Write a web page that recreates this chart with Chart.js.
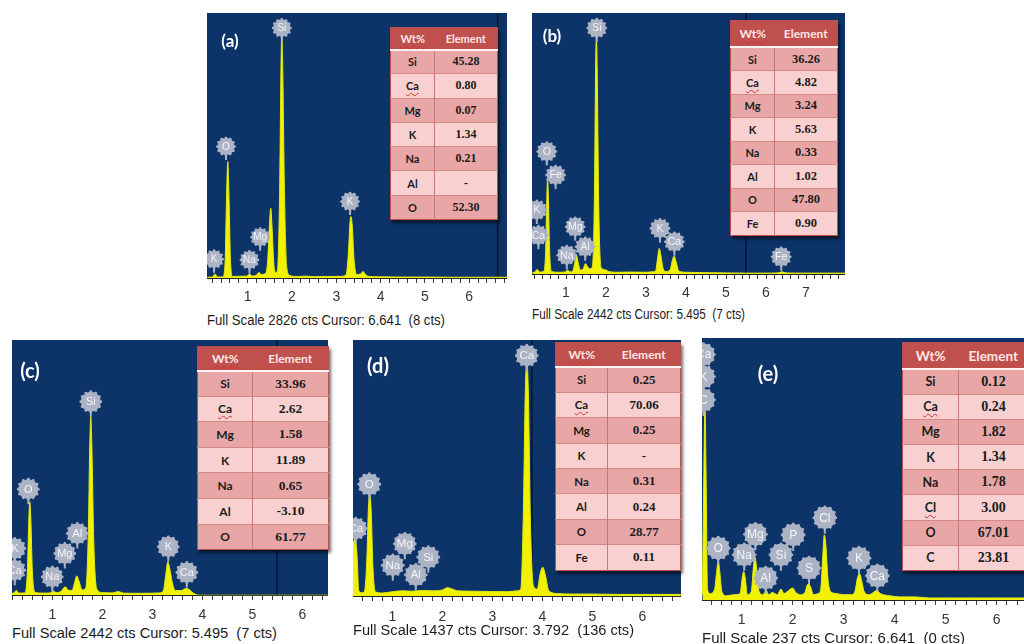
<!DOCTYPE html>
<html>
<head>
<meta charset="utf-8">
<script src="https://cdn.jsdelivr.net/npm/chart.js@4.4.1/dist/chart.umd.min.js"></script>
<style>
  body { margin: 0; width: 1024px; height: 644px; background: #fff; position: relative; overflow: hidden; font-family: "Liberation Sans", Arial, sans-serif; }
  canvas { position: absolute; }
  .tag { position: absolute; color: #fff; font-family: Lato, "Open Sans", sans-serif; font-weight: 700; transform: translate(-50%, -50%); white-space: nowrap; }
  .cap { position: absolute; white-space: pre; font-size: 14px; line-height: 16px; color: #1c1c1c; transform-origin: 0 50%; }
  table.wt { position: absolute; border-collapse: collapse; table-layout: fixed; box-shadow: 2px 3px 3px rgba(0,0,0,.55); border: 1px solid #b9504e; }
  table.wt th { background: #c0504d; color: #fde6e5; font-family: Lato, sans-serif; font-weight: 700; padding: 0; border-bottom: 2px solid #fff4f4; }
  table.wt td { padding: 0; text-align: center; color: #1b1b1b; border-top: 1px solid #d58886; }
  table.wt td.el { font-family: Lato, sans-serif; font-weight: 700; border-right: 1px solid #c97877; }
  table.wt td.v { font-family: "Liberation Serif", serif; font-weight: 700; }
  .sq { text-decoration: underline wavy #d03030; text-decoration-thickness: 1px; text-underline-offset: 2px; }
</style>
</head>
<body>
<script>
// spectra: energy (keV) and counts per sample
const keV_a = [0.09,0.2,0.26,0.32, 0.44,0.49,0.52,0.55,0.58,0.61,0.66, 0.8, 0.98,1.04,1.1, 1.19,1.25,1.31, 1.4,1.45,1.49,1.52,1.55,1.59,1.63, 1.67,1.72,1.75,1.77,1.79,1.83,1.88,1.95, 2.1,2.3,2.5,2.8,3.1, 3.22,3.27,3.31,3.33,3.36,3.4,3.46, 3.55,3.6,3.65,3.72, 4.0,4.5,5.0,5.5,6.0,6.5,6.86];
const cts_a = [10,12,45,12, 14,180,800,1243,820,200,18, 20, 22,45,24, 30,60,40, 50,180,560,746,540,150,60, 80,900,2200,2600,2250,900,120,30, 18,22,16,18,20, 35,250,600,657,560,200,40, 45,72,45,20, 15,12,12,10,10,10,10];

const keV_b = [0.16,0.22,0.28,0.34, 0.44,0.49,0.52,0.54,0.56,0.59,0.64, 0.8, 0.98,1.04,1.1, 1.17,1.22,1.26,1.3,1.36, 1.42,1.46,1.49,1.53,1.6, 1.66,1.71,1.74,1.76,1.78,1.82,1.88, 2.0,2.06,2.3,2.6,3.0,3.15, 3.24,3.29,3.33,3.37,3.43, 3.5, 3.6,3.66,3.7,3.75,3.82, 4.0,4.5,5.0,5.5,6.0,6.3,6.4,6.5,7.0,7.5,7.98];
const cts_b = [15,20,44,20, 25,200,700,896,720,220,25, 18, 20,40,22, 30,110,178,115,40, 45,80,100,75,50, 70,700,1900,2223,1900,600,60, 40,25,18,20,18,22, 30,150,241,180,50, 25, 40,130,169,120,30, 18,14,12,10,10,12,22,12,10,10,10];

const keV_c = [0.19,0.24,0.28,0.33, 0.45,0.5,0.53,0.55,0.57,0.6,0.66, 0.8, 0.96,1.02,1.08, 1.17,1.26,1.33, 1.4,1.45,1.49,1.53,1.6, 1.67,1.72,1.75,1.77,1.79,1.83,1.89, 2.0,2.2,2.32,2.42,2.8,3.15, 3.22,3.27,3.31,3.35,3.4,3.46, 3.58,3.64,3.69,3.75,3.82, 3.9,3.95,4.5,5.0,5.5,6.0,6.52];
const cts_c = [15,25,45,20, 22,220,720,894,740,240,25, 20, 22,40,25, 35,80,45, 50,130,185,140,50, 70,600,1450,1708,1450,500,60, 25,22,35,20,18,22, 40,200,319,250,120,45, 45,60,64,50,20, 3,0,0,0,0,0,0];

const keV_d = [0.21,0.25,0.29,0.33,0.38, 0.44,0.49,0.52,0.55,0.58,0.61,0.66, 0.8,1.0,1.2,1.4,1.6,1.8,2.0,2.1,2.2,2.3,2.6,3.0,3.3,3.5, 3.57,3.62,3.66,3.69,3.72,3.76,3.82, 3.9,3.96,4.01,4.06,4.13, 4.3,4.6,5.0,5.5,6.0,6.77];
const cts_d = [300,319,250,30,20, 25,200,480,570,460,180,25, 18,25,30,28,32,30,35,48,40,30,28,26,25,30, 40,450,1150,1315,1150,450,60, 40,130,163,120,30, 15,12,12,10,10,10];

const keV_e = [0.23,0.26,0.28,0.3,0.33, 0.38,0.47,0.51,0.54,0.57,0.61, 0.7,0.85, 0.97,1.01,1.04,1.07,1.11, 1.19,1.23,1.26,1.29,1.34, 1.42,1.48,1.53,1.6,1.7,1.77,1.83,1.9,2.0,2.06,2.15, 2.24,2.28,2.31,2.35,2.41, 2.5, 2.55,2.59,2.62,2.65,2.69,2.74, 2.85,3.0,3.15, 3.22,3.27,3.31,3.35,3.4, 3.5,3.58,3.65,3.72, 3.9,4.1,4.4,4.7,5.0,5.5,6.0,6.54];
const cts_e = [5,120,178,120,10, 6,10,26,35,26,8, 4,5, 6,20,26,20,5, 8,30,39,30,8, 5,9,5,7,5,10,6,8,11,7,5, 7,13,15,12,5, 6, 10,40,59,50,20,8, 6,5,5, 8,20,24,18,8, 5,7,9,6, 4,3,3,2,2,2,2,2];

// peak labels: element, keV, counts at the label centre
const lbl_a = [['Si',1.77,2666],['O',0.51,1403],['K',3.31,817],['Mg',1.28,437],['Na',1.04,195],['K',0.24,203]];
const lbl_b = [['Si',1.77,2301],['O',0.52,1146],['Fe',0.74,927],['K',0.27,600],['Ca',0.31,365],['Mg',1.23,443],['Na',1.02,178],['Al',1.48,256],['K',3.35,428],['Ca',3.71,303],['Fe',6.38,162]];
const lbl_c = [['Si',1.77,1851],['O',0.52,1015],['K',0.25,447],['Ca',0.25,239],['Al',1.5,591],['Mg',1.25,399],['Na',1.0,175],['K',3.32,463],['Ca',3.69,217]];
const lbl_d = [['Ca',3.69,1349],['O',0.54,628],['Ca',0.27,379],['Mg',1.25,294],['Na',1.01,173],['Si',1.72,219],['Al',1.47,120]];
const lbl_e = [['Ca',0.25,222],['K',0.25,202],['C',0.25,181],['O',0.54,47],['Na',1.05,41],['Mg',1.27,59.5],['Al',1.47,20],['Si',1.77,41],['P',2.01,59],['S',2.32,29],['Cl',2.63,74.5],['K',3.3,38],['Ca',3.66,22]];

// composition tables
const elem_a = ['Si','Ca','Mg','K','Na','Al','O'];
const wt_a = ['45.28','0.80','0.07','1.34','0.21','-','52.30'];
const elem_b = ['Si','Ca','Mg','K','Na','Al','O','Fe'];
const wt_b = ['36.26','4.82','3.24','5.63','0.33','1.02','47.80','0.90'];
const elem_c = ['Si','Ca','Mg','K','Na','Al','O'];
const wt_c = ['33.96','2.62','1.58','11.89','0.65','-3.10','61.77'];
const elem_d = ['Si','Ca','Mg','K','Na','Al','O','Fe'];
const wt_d = ['0.25','70.06','0.25','-','0.31','0.24','28.77','0.11'];
const elem_e = ['Si','Ca','Mg','K','Na','Cl','O','C'];
const wt_e = ['0.12','0.24','1.82','1.34','1.78','3.00','67.01','23.81'];

const keVLabels = [1, 2, 3, 4, 5, 6, 7];
const fullScale = [2826, 2442, 2442, 1437, 237];
const cursorKeV = [6.641, 5.495, 5.495, 3.792, 6.641];
const cursorCts = [8, 7, 7, 136, 0];
const panelTags = ['(a)', '(b)', '(c)', '(d)', '(e)'];

const layout = [
  { left: 207, top: 13, width: 300, plotH: 265, xMin: 0.081, xMax: 6.853, pad: 7, r: 8.5, font: 10,
    tag: [230, 40, 17], cap: [320, 238], tbl: [390, 27, 107, 44, 22, 24.3, 11, 11, 12], sqHead: true },
  { left: 532, top: 13, width: 313, plotH: 261, xMin: 0.15, xMax: 7.975, pad: 7, r: 9, font: 10.5,
    tag: [552, 35, 17], cap: [314, 213], tbl: [730, 20, 107, 44, 26.5, 23.5, 12, 11, 12.5], sqHead: true },
  { left: 12, top: 340, width: 316, plotH: 255, xMin: 0.194, xMax: 6.514, pad: 8, r: 10, font: 11,
    tag: [30, 370, 20], cap: [633, 265], tbl: [197, 346, 131, 55, 24, 25.6, 12, 12, 13.5], sqHead: true },
  { left: 353, top: 340, width: 328, plotH: 256, xMin: 0.214, xMax: 6.774, pad: 9, r: 10.5, font: 11.5,
    tag: [378, 365, 20], cap: [630, 281], tbl: [555, 342, 125, 52, 24.4, 25.4, 12, 11.5, 13], sqHead: true },
  { left: 702, top: 338, width: 322, plotH: 262, xMin: 0.222, xMax: 6.535, pad: 8, r: 11, font: 12,
    tag: [768, 373, 20], cap: [638, 263], tbl: [902, 342, 126, 56, 26.5, 25.2, 13.5, 12.5, 14], sqHead: false },
];

const spectra = [[keV_a, cts_a], [keV_b, cts_b], [keV_c, cts_c], [keV_d, cts_d], [keV_e, cts_e]];
const labels = [lbl_a, lbl_b, lbl_c, lbl_d, lbl_e];
const tables = [[elem_a, wt_a], [elem_b, wt_b], [elem_c, wt_c], [elem_d, wt_d], [elem_e, wt_e]];

const TICK_LEN = 4;
const TICK_FONT = 14;

// navy plot field, cursor line and element bubbles
const edsPlugin = {
  id: 'eds',
  beforeDraw(chart) {
    const { ctx, chartArea: a } = chart;
    ctx.save();
    ctx.fillStyle = '#0c3468';
    ctx.fillRect(a.left, a.top, a.right - a.left, a.bottom - a.top);
    ctx.restore();
  },
  beforeDatasetsDraw(chart, args, o) {
    const { ctx, chartArea: a, scales: { x } } = chart;
    const px = x.getPixelForValue(o.cursor);
    if (px < a.left || px > a.right) return;
    ctx.save();
    ctx.strokeStyle = '#08162c';
    ctx.lineWidth = 1.5;
    ctx.beginPath();
    ctx.moveTo(px, a.top);
    ctx.lineTo(px, a.bottom);
    ctx.stroke();
    ctx.restore();
  },
  afterDatasetsDraw(chart, args, o) {
    const { ctx, chartArea: a, scales: { x, y } } = chart;
    ctx.save();
    ctx.beginPath();
    ctx.rect(a.left, a.top, a.right - a.left, a.bottom - a.top);
    ctx.clip();
    for (const [name, kev, cts] of o.labels) {
      const cx = x.getPixelForValue(kev);
      const cy = y.getPixelForValue(cts);
      ctx.fillStyle = '#abb3c5';
      ctx.strokeStyle = '#abb3c5';
      ctx.lineWidth = 2;
      ctx.beginPath();
      ctx.moveTo(cx, cy + o.r);
      ctx.lineTo(cx, cy + o.r + 5);
      ctx.stroke();
      ctx.beginPath();
      ctx.arc(cx, cy, o.r, 0, Math.PI * 2);
      ctx.fill();
      // scalloped rim
      for (let k = 0; k < 12; k++) {
        const t = k * Math.PI / 6;
        ctx.beginPath();
        ctx.arc(cx + Math.cos(t) * o.r, cy + Math.sin(t) * o.r, 1.4, 0, Math.PI * 2);
        ctx.fill();
      }
      ctx.fillStyle = '#f4f6fa';
      ctx.font = `${o.font}px "Liberation Sans"`;
      ctx.textAlign = 'center';
      ctx.textBaseline = 'middle';
      ctx.fillText(name, cx, cy + 0.5);
    }
    ctx.restore();
  },
};

function makeChart(i) {
  const p = layout[i];
  const [kev, cts] = spectra[i];
  const cv = document.createElement('canvas');
  cv.width = p.width;
  cv.height = p.plotH + TICK_LEN + p.pad + 17;
  cv.style.left = p.left + 'px';
  cv.style.top = p.top + 'px';
  document.body.appendChild(cv);

  new Chart(cv, {
    type: 'line',
    data: {
      datasets: [{
        data: kev.map((x, j) => ({ x, y: cts[j] })),
        fill: 'origin',
        backgroundColor: '#f2f200',
        borderColor: '#e2ea12',
        borderWidth: 1,
        pointRadius: 0,
        cubicInterpolationMode: 'monotone',
      }],
    },
    options: {
      responsive: false,
      animation: false,
      events: [],
      layout: { padding: 0 },
      plugins: {
        legend: { display: false },
        tooltip: { enabled: false },
        eds: { labels: labels[i], r: p.r, font: p.font, cursor: cursorKeV[i] },
      },
      scales: {
        x: {
          type: 'linear',
          min: p.xMin,
          max: p.xMax,
          afterBuildTicks: (s) => {
            const out = [];
            for (let v = Math.ceil(p.xMin * 5) / 5; v <= p.xMax; v = Math.round((v + 0.2) * 5) / 5) out.push({ value: v });
            s.ticks = out;
          },
          // label gap comes from a long, dashed tick so the plot area keeps its full width
          ticks: {
            autoSkip: false,
            maxRotation: 0,
            padding: 0,
            color: '#353535',
            font: { family: 'Liberation Sans', size: TICK_FONT },
            callback: (v) => keVLabels.includes(Math.round(v * 100) / 100) ? String(Math.round(v)) : '',
          },
          grid: {
            drawOnChartArea: false,
            tickLength: TICK_LEN + p.pad,
            tickBorderDash: [TICK_LEN, 200],
            color: '#3a3a3a',
          },
          border: { display: true, color: '#222', width: 1 },
        },
        y: { display: false, min: 0, max: fullScale[i] },
      },
    },
    plugins: [edsPlugin],
  });
}

function makeTable(i) {
  const [x, y, w, c1, hh, rh, fh, fe, fv] = layout[i].tbl;
  const [elems, wts] = tables[i];
  const t = document.createElement('table');
  t.className = 'wt';
  t.style.left = x + 'px';
  t.style.top = y + 'px';
  t.style.width = w + 'px';
  const head = layout[i].sqHead ? '<span class="sq">Wt%</span>' : 'Wt%';
  let html = `<colgroup><col style="width:${c1}px"><col style="width:${w - c1}px"></colgroup>`;
  html += `<tr style="height:${hh}px"><th style="font-size:${fh}px">${head}</th><th style="font-size:${fh}px">Element</th></tr>`;
  elems.forEach((el, j) => {
    const bg = j % 2 === 0 ? '#e8a7a6' : '#f8d0cf';
    const name = (el === 'Ca' || el === 'Cl') ? `<span class="sq">${el}</span>` : el;
    html += `<tr style="height:${rh}px;background:${bg}"><td class="el" style="font-size:${fe}px">${name}</td><td class="v" style="font-size:${fv}px">${wts[j]}</td></tr>`;
  });
  t.innerHTML = html;
  document.body.appendChild(t);
}

function makeText(i) {
  const p = layout[i];
  const tag = document.createElement('div');
  tag.className = 'tag';
  tag.textContent = panelTags[i];
  tag.style.left = p.tag[0] + 'px';
  tag.style.top = p.tag[1] + 'px';
  tag.style.fontSize = p.tag[2] + 'px';
  document.body.appendChild(tag);

  const cap = document.createElement('div');
  cap.className = 'cap';
  cap.textContent = `Full Scale ${fullScale[i]} cts Cursor: ${cursorKeV[i].toFixed(3)}  (${cursorCts[i]} cts)`;
  cap.style.left = p.left + 'px';
  cap.style.top = (p.cap[0] - 8) + 'px';
  document.body.appendChild(cap);
  const w = cap.getBoundingClientRect().width;
  cap.style.transform = `scaleX(${p.cap[1] / w})`;
}

for (let i = 0; i < layout.length; i++) {
  makeChart(i);
  makeTable(i);
  makeText(i);
}
</script>
</body>
</html>
